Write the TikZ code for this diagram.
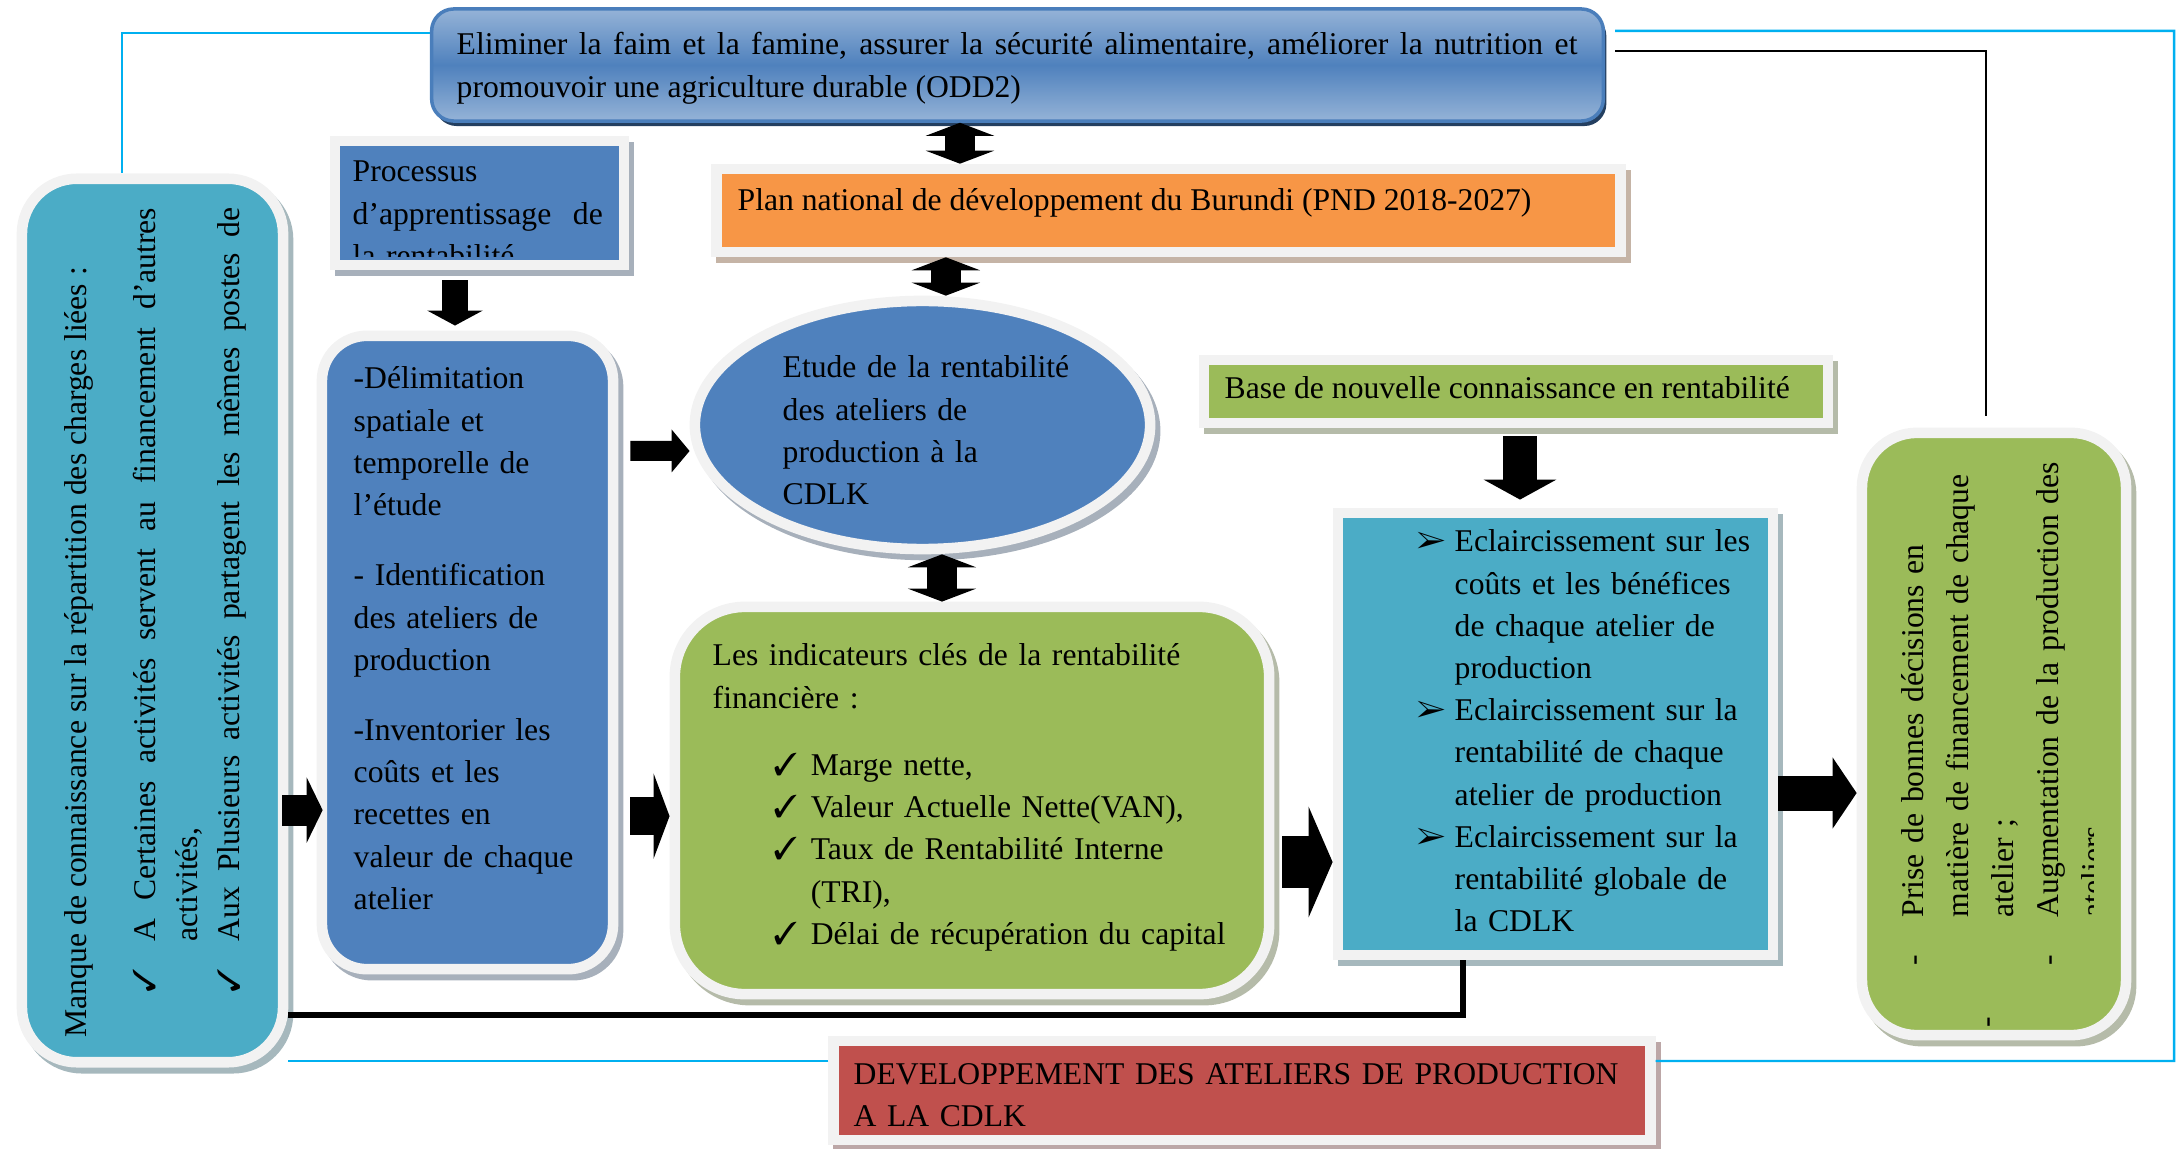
\documentclass[tikz,border=0pt]{standalone}
\usepackage{fontspec}
\setmainfont{Liberation Serif}
\usepackage{pifont}
\usetikzlibrary{arrows.meta, shapes.geometric, shadows, calc}

\definecolor{bleuatelier}{HTML}{4F81BD}
\definecolor{bleuclair}{HTML}{95B3D7}
\definecolor{bleubord}{HTML}{4A7EBB}
\definecolor{bleunuit}{HTML}{243F60}
\definecolor{cyanatelier}{HTML}{4BACC6}
\definecolor{vertatelier}{HTML}{9BBB59}
\definecolor{orangeplan}{HTML}{F79646}
\definecolor{rougedev}{HTML}{C0504D}
\definecolor{cadre}{HTML}{F2F2F2}
\definecolor{cyanlien}{HTML}{00B0F0}

\tolerance=9999 \hbadness=10000
\hyphenpenalty=10000 \exhyphenpenalty=10000

\newcommand{\coche}[2]{\makebox[#1][l]{\hspace*{#2}\ding{51}}}
\newcommand{\pointe}{\makebox[0.38cm][l]{\ding{226}}}

\tikzset{
  boite/.style={draw=cadre, line width=3pt, fill=#1, inner sep=0pt,
    drop shadow={shadow xshift=0.05cm, shadow yshift=-0.06cm, opacity=1,
      fill=#1!45!black!40, draw=#1!45!black!40, line width=3pt}},
  boiteodd/.style={draw=bleubord, line width=1pt, rounded corners=0.22cm,
    top color=bleuclair, bottom color=bleuclair, middle color=bleuatelier,
    drop shadow={shadow xshift=0.03cm, shadow yshift=-0.05cm, opacity=1, fill=bleunuit}},
  texte/.style={inner sep=0pt, anchor=base west, font=\fontsize{9}{12}\selectfont},
  fleche/.style n args={3}{draw=black, line width=#1, -{Triangle[width=#2, length=#3]}},
  dfleche/.style n args={3}{draw=black, line width=#1,
    {Triangle[width=#2, length=#3]}-{Triangle[width=#2, length=#3]}},
  lienbleu/.style={draw=cyanlien, line width=0.7pt},
  liennoir/.style={draw=black, line width=0.7pt},
}

\begin{document}
\begin{tikzpicture}[x=0.01cm, y=-0.01cm]
    \useasboundingbox (0,0) rectangle (2181,1149);

    % --- Objectif ODD2 (haut) ---
    \node[boiteodd, minimum width=11.71cm, minimum height=1.12cm] (odd) at (1017.5,65) {};
    \node[texte, text width=11.2cm, align=justify] (odd-t) at (456,55)
        {Eliminer la faim et la famine, assurer la sécurité alimentaire, améliorer la nutrition et promouvoir une agriculture durable (ODD2)};

    % --- Plan national ---
    \node[boite=orangeplan, minimum width=9.03cm, minimum height=0.83cm] (plan) at (1168.5,210.5) {};
    \node[texte] (plan-t) at (737,211) {Plan national de développement du Burundi (PND 2018-2027)};

    % --- Processus d'apprentissage (texte coupe) ---
    \node[boite=bleuatelier, minimum width=2.89cm, minimum height=1.24cm] (processus) at (479.5,203) {};
    \begin{scope}
        \clip (330,136) rectangle (629,257);
        \node[texte, text width=2.5cm, align=left] (processus-t) at (352,182)
            {Processus\\d’apprentissage\hfill de\\la rentabilité};
    \end{scope}

    % --- Manque de connaissance (gauche, texte vertical) ---
    \node[boite=cyanatelier, rounded corners=0.55cm, minimum width=2.61cm, minimum height=8.83cm] (manque) at (152.5,620.5) {};
    \node[texte, rotate=90, text width=8.29cm, align=justify] (manque-t) at (86,1038)
        {Manque de connaissance sur la répartition des charges liées :\par
         \vspace{0.27cm}
         \hangindent=0.96cm \hangafter=1 \coche{0.96cm}{0.45cm}A Certaines activités servent au financement d’autres activités,\par
         {\parfillskip=0pt \hangindent=0.96cm \hangafter=1 \coche{0.96cm}{0.45cm}Aux Plusieurs activités partagent les mêmes postes de\par}};

    % --- Delimitation de l'etude ---
    \node[boite=bleuatelier, rounded corners=0.45cm, minimum width=2.91cm, minimum height=6.33cm] (delimit) at (467.5,652.5) {};
    \node[texte, text width=2.6cm, align=left] (delimit-t) at (353,389)
        {-Délimitation\\spatiale et\\temporelle de\\l’étude\\[0.28cm]
         - Identification\\des ateliers de\\production\\[0.28cm]
         -Inventorier les\\coûts et les\\recettes en\\valeur de chaque\\atelier};

    % --- Etude de la rentabilite (ellipse) ---
    \node[boite=bleuatelier, ellipse, minimum width=4.55cm, minimum height=2.48cm] (etude) at (922.5,425) {};
    \node[texte, text width=3.3cm, align=left] (etude-t) at (782,378)
        {Etude de la rentabilité\\des ateliers de\\production à la\\CDLK};

    % --- Indicateurs cles ---
    \node[boite=vertatelier, rounded corners=0.7cm, minimum width=5.94cm, minimum height=3.87cm] (indic) at (972,800.5) {};
    \node[texte, text width=5.3cm, align=left] (indic-t) at (712,666)
        {Les indicateurs clés de la rentabilité\\financière :\\[0.25cm]
         \coche{0.98cm}{0.61cm}Marge nette,\\
         \coche{0.98cm}{0.61cm}Valeur Actuelle Nette(VAN),\\
         \coche{0.98cm}{0.61cm}Taux de Rentabilité Interne\\
         \hspace*{0.98cm}(TRI),\\
         \coche{0.98cm}{0.61cm}Délai de récupération du capital};

    % --- Base de nouvelle connaissance ---
    \node[boite=vertatelier, minimum width=6.24cm, minimum height=0.63cm] (base) at (1516,391.5) {};
    \node[texte] (base-t) at (1224,399) {Base de nouvelle connaissance en rentabilité};

    % --- Eclaircissements ---
    \node[boite=cyanatelier, minimum width=4.35cm, minimum height=4.42cm] (eclair) at (1555.5,734) {};
    \node[texte, text width=3.4cm, align=left] (eclair-t) at (1416,552)
        {\pointe Eclaircissement sur les\\\hspace*{0.38cm}coûts et les bénéfices\\\hspace*{0.38cm}de chaque atelier de\\\hspace*{0.38cm}production\\
         \pointe Eclaircissement sur la\\\hspace*{0.38cm}rentabilité de chaque\\\hspace*{0.38cm}atelier de production\\
         \pointe Eclaircissement sur la\\\hspace*{0.38cm}rentabilité globale de\\\hspace*{0.38cm}la CDLK};

    % --- Prise de decisions (droite, texte vertical coupe) ---
    \node[boite=vertatelier, rounded corners=0.55cm, minimum width=2.64cm, minimum height=6.02cm] (decision) at (1994,734) {};
    \begin{scope}
        \clip (1850,420) rectangle (2093,1045);
        \node[texte, rotate=90, text width=6cm, align=left, font=\fontsize{9}{12.8}\selectfont] (decision-t) at (1923,966)
            {\makebox[0.48cm][l]{-}Prise de bonnes décisions en\\
             \hspace*{0.48cm}matière de financement de chaque\\
             \hspace*{0.48cm}atelier ;\\
             \makebox[0.48cm][l]{-}Augmentation de la production des\\
             \hspace*{0.48cm}ateliers};
        \node[texte, rotate=90] (decision-tiret) at (1996,1028) {-};
    \end{scope}

    % --- Developpement des ateliers (bas) ---
    \node[boite=rougedev, minimum width=8.16cm, minimum height=0.99cm] (devel) at (1242,1090.5) {};
    \node[texte, text width=8cm, align=left] (devel-t) at (853,1084)
        {DEVELOPPEMENT DES ATELIERS DE PRODUCTION\\A LA CDLK};

    % --- Liens fins ---
    \coordinate (coin_bleu) at (2174,1061);
    \draw[lienbleu] ([yshift=0.32cm]odd.west) -| ([xshift=-0.305cm]manque.north);
    \draw[lienbleu, shorten <=0.1cm] ([yshift=0.34cm]odd.east) -| (coin_bleu) -- ([yshift=0.295cm]devel.east);
    \draw[lienbleu] ([yshift=0.295cm]devel.west) -- ([yshift=0.295cm]devel.west -| manque.east);
    \draw[liennoir, shorten <=0.1cm, shorten >=0.12cm] ([yshift=0.14cm]odd.east) -| ([xshift=-0.08cm]decision.north);
    \draw[draw=black, line width=0.065cm] ([yshift=-3.945cm]manque.east) -| ([xshift=-0.925cm]eclair.south);

    % --- Fleches ---
    \draw[fleche={0.26cm}{0.55cm}{0.15cm}, shorten <=0.1cm, shorten >=0.05cm]
        ([xshift=-0.245cm]processus.south) -- ([xshift=-0.245cm]processus.south |- delimit.north);
    \draw[fleche={0.31cm}{0.65cm}{0.16cm}, shorten <=-0.06cm, shorten >=-0.06cm]
        ([yshift=-1.895cm]manque.east) -- ([yshift=-1.895cm]manque.east -| delimit.west);
    \draw[fleche={0.2cm}{0.42cm}{0.18cm}, shorten <=0.12cm]
        ([yshift=2.015cm]delimit.east) -- ([yshift=-0.26cm]etude.west);
    \draw[fleche={0.38cm}{0.85cm}{0.16cm}, shorten <=0.12cm]
        ([yshift=-1.635cm]delimit.east) -- ([yshift=-1.635cm]delimit.east -| indic.west);
    \draw[fleche={0.52cm}{1.1cm}{0.24cm}, shorten <=0.08cm]
        ([yshift=-0.615cm]indic.east) -- ([yshift=-0.615cm]indic.east -| eclair.west);
    \draw[fleche={0.34cm}{0.72cm}{0.2cm}, shorten <=0.08cm, shorten >=0.08cm]
        ([xshift=0.04cm]base.south) -- ([xshift=0.04cm]base.south |- eclair.north);
    \draw[fleche={0.35cm}{0.7cm}{0.24cm}]
        ([yshift=-0.59cm]eclair.east) -- ([yshift=-0.59cm]eclair.east -| decision.west);

    % --- Doubles fleches ---
    \draw[dfleche={0.3cm}{0.68cm}{0.13cm}]
        ([xshift=-0.575cm]odd.south) -- ([xshift=-0.575cm]odd.south |- plan.north);
    \draw[dfleche={0.3cm}{0.68cm}{0.13cm}]
        ([xshift=-2.225cm]plan.south) -- ([xshift=-2.225cm]plan.south |- etude.north);
    \draw[dfleche={0.3cm}{0.68cm}{0.13cm}]
        ([xshift=0.195cm]etude.south) -- ([xshift=0.195cm]etude.south |- indic.north);
\end{tikzpicture}
\end{document}
